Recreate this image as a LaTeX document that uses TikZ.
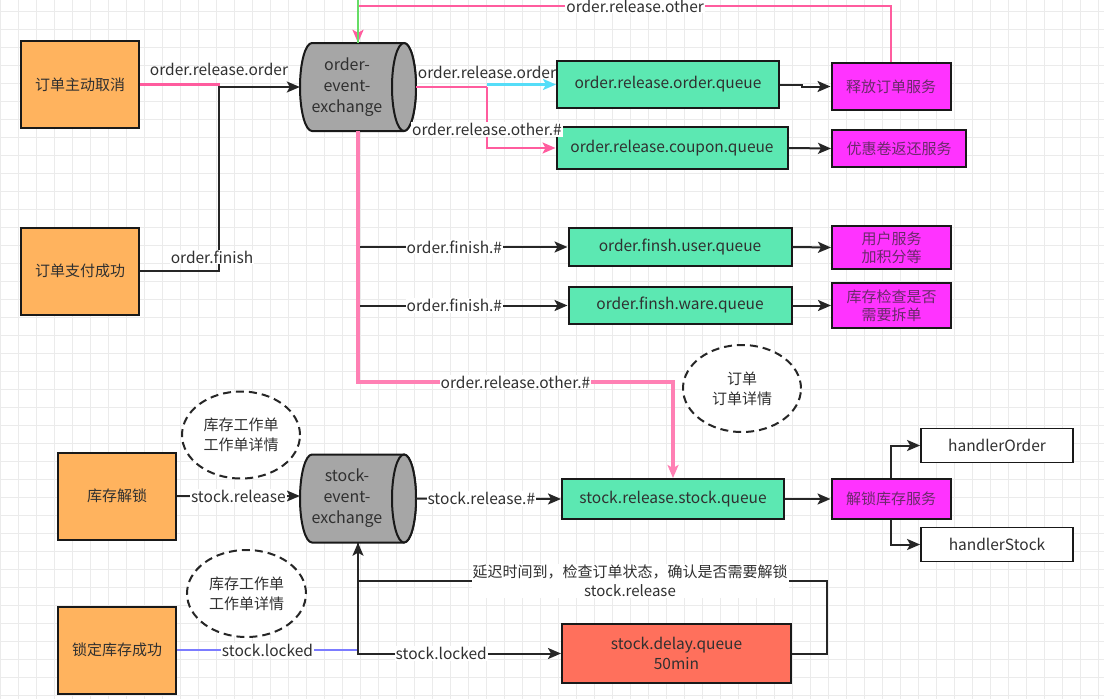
\documentclass[tikz,border=0pt]{standalone}
\usepackage{fontspec}
\setmainfont{Noto Sans CJK SC}
\usepackage{tikz}
\usetikzlibrary{arrows.meta,positioning,shapes.geometric}

\definecolor{txt}{HTML}{303030}
\definecolor{srcfill}{HTML}{FFB35E}
\definecolor{qfill}{HTML}{5CE8B2}
\definecolor{svcfill}{HTML}{FF33FF}
\definecolor{svctxt}{HTML}{6A2A6A}
\definecolor{delayfill}{HTML}{FF705C}
\definecolor{exfill}{HTML}{A6A6A6}
\definecolor{lnpink}{HTML}{FF5C9E}
\definecolor{lnpinklt}{HTML}{FF80B4}
\definecolor{lncyan}{HTML}{55DDF8}
\definecolor{lnblue}{HTML}{7C7CFF}
\definecolor{lngreen}{HTML}{66DD66}

\tikzset{
	>={Stealth[length=13pt,width=11pt,inset=3pt]}, % filled arrow heads
	every node/.style={text=txt, font=\fontsize{15.5}{18}\selectfont},
	gridln/.style={draw=black!8, line width=0.8pt},
	src/.style={draw=black!90, line width=2pt, fill=srcfill, minimum width=118pt, minimum height=87pt, font=\fontsize{15}{19}\selectfont},
	queue/.style={draw=black!90, line width=2pt, fill=qfill, inner sep=0pt, align=center, font=\fontsize{15.5}{20}\selectfont},
	svcbox/.style={draw=black!90, line width=2pt, fill=svcfill, text=svctxt, minimum width=119pt, inner sep=0pt, align=center, font=\fontsize{15}{18}\selectfont},
	handler/.style={draw=black!90, line width=1.8pt, fill=white, minimum width=152pt, minimum height=34pt, font=\fontsize{15.5}{18}\selectfont},
	note/.style={ellipse, draw=black!85, line width=2pt, dash pattern=on 8pt off 5pt, fill=white, minimum width=118pt, minimum height=87pt, inner sep=0pt, align=center, font=\fontsize{15}{20}\selectfont},
	exch/.style={draw=black!90, line width=2pt, fill=exfill},
	exname/.style={minimum width=116pt, minimum height=88pt, inner sep=0pt},
	exlabel/.style={align=center, xshift=-11pt, font=\fontsize{16}{21}\selectfont},
	link/.style={draw=black!85, line width=2pt},
	pinkln/.style={draw=lnpink, line width=2.2pt},
	bigpink/.style={draw=lnpinklt, line width=4pt},
	lbl/.style={fill=white, inner sep=1pt},
}

\begin{document}
\begin{tikzpicture}[x=1pt,y=-1pt]
	\useasboundingbox[fill=white] (0,0) rectangle (1104,699);
	% grid
	\foreach \gx in {0,18,...,1098} \draw[gridln] (\gx,0) -- (\gx,699);
	\foreach \gy in {11,29,...,695} \draw[gridln] (0,\gy) -- (1104,\gy);

	% the two exchanges
	\foreach \cy in {87,498.5} {
		\filldraw[exch] (312,\cy+44) arc[start angle=90,end angle=270,x radius=12,y radius=44]
			-- (404,\cy-44) arc[start angle=270,end angle=450,x radius=12,y radius=44] -- cycle;
		\draw[exch] (404,\cy) ellipse[x radius=12,y radius=44];
	}
	\node[exname, label={[exlabel]center:order-\\event-\\exchange}] (oex) at (358,87) {};
	\node[exname, label={[exlabel]center:stock-\\event-\\exchange}] (sex) at (358,498.5) {};

	% senders
	\node[src] (c1)   at (80,84.5) {订单主动取消};
	\node[src] (c2)   at (80,271)  {订单支付成功};
	\node[src] (unl)  at (117,496) {库存解锁};
	\node[src] (lock) at (117,650) {锁定库存成功};

	% queues
	\node[queue, minimum width=222pt, minimum height=47pt] (rq) at (668,84.5) {order.release.order.queue};
	\node[queue, minimum width=231pt, minimum height=42pt] (cq) at (672,148)  {order.release.coupon.queue};
	\node[queue, minimum width=223pt, minimum height=38pt] (uq) at (680,247)  {order.finsh.user.queue};
	\node[queue, minimum width=223pt, minimum height=37pt] (wq) at (680,305.5) {order.finsh.ware.queue};
	\node[queue, minimum width=222pt, minimum height=40pt] (sq) at (673,499)  {stock.release.stock.queue};
	\node[queue, fill=delayfill, minimum width=229pt, minimum height=59pt] (dq) at (676.5,653.5) {stock.delay.queue\\50min};

	% services
	\node[svcbox, minimum height=47pt] (rel)  at (891,86.5)  {释放订单服务};
	\node[svcbox, minimum width=134pt, minimum height=37pt] (cpn) at (899,148.5) {优惠卷返还服务};
	\node[svcbox, minimum height=43pt] (usr)  at (891.5,247.5) {用户服务\\加积分等};
	\node[svcbox, minimum height=45pt] (ware) at (891.5,305.5) {库存检查是否\\需要拆单};
	\node[svcbox, minimum height=40pt] (svc)  at (891,499)   {解锁库存服务};
	\node[handler] (ho) at (997,445.5) {handlerOrder};
	\node[handler] (hs) at (997,544.5) {handlerStock};

	% notes
	\node[note] (n1) at (241,435)   {库存工作单\\工作单详情};
	\node[note, minimum width=119pt] (n2) at (246.5,593.5) {库存工作单\\工作单详情};
	\node[note] (n3) at (742,388.5) {订单\\订单详情};

	\coordinate (tp) at (0,0);
	\coordinate (tl) at (0,6);
	\coordinate (jn) at (219,87);
	\coordinate (sp) at (487,87);
	\coordinate (bp) at (0,382);
	\coordinate (rl) at (0,581);

	% order side
	\draw[pinkln,->] (rel.north) |- node[lbl,pos=0.74]{order.release.other} (oex.north |- tl) -- (oex.north);
	\draw[draw=lngreen, line width=1.4pt] (oex.north |- tp) -- (oex.north);
	\draw[pinkln] (c1.east) -- node[pos=1,above=4pt]{order.release.order} (c1.east -| jn) -- (jn);
	\draw[link,->] (c2.east) -| node[lbl,pos=0.5,yshift=14pt,xshift=-7pt]{order.finish} (jn) -- (jn -| oex.west);
	\draw[pinkln] (oex.east) -- node[pos=1,above=4pt]{order.release.order} (sp);
	\draw[draw=lncyan, line width=2.2pt,->] (sp |- rq.west) -- (rq.west);
	\draw[pinkln,->] (sp) |- node[lbl,pos=0.35]{order.release.other.\#} (cq.west);
	\draw[link,->] (rq.east) -- ++(22,0) |- (rel.west);
	\draw[link,->] (cq.east) -- (cpn.west);
	\draw[link,->] (oex.south |- uq.west) -- node[lbl,pos=0.46]{order.finish.\#} (uq.west);
	\draw[link,->] (oex.south |- wq.west) -- node[lbl,pos=0.46]{order.finish.\#} (wq.west);
	\draw[link,->] (uq.east) -- (usr.west);
	\draw[link,->] (wq.east) -- (ware.west);
	\draw[bigpink,->] (oex.south) -- (oex.south |- bp) -- node[lbl]{order.release.other.\#} (sq.north |- bp) -- (sq.north);

	% stock side
	\draw[link,->] (unl.east) -- node[lbl]{stock.release} (unl.east -| sex.west);
	\draw[link,->] (sex.east) -- node[lbl,pos=0.45]{stock.release.\#} (sq.west);
	\draw[link,->] (sq.east) -- (svc.west);
	\draw[link,->] (svc.north) |- (ho.west);
	\draw[link,->] (svc.south) |- (hs.west);
	\draw[draw=lnblue, line width=2.2pt] (lock.east) -- node[lbl]{stock.locked} (lock.east -| sex.south) -- (sex.south);
	\draw[link,->] (sex.south) -- (sex.south |- dq.west) -- node[lbl,pos=0.41]{stock.locked} (dq.west);
	\draw[link,->] (dq.east) -- ++(35,0) |- node[lbl,pos=0.71,align=center,font=\fontsize{15}{19}\selectfont]{延迟时间到，检查订单状态，确认是否需要解锁\\stock.release} (sex.south |- rl) -- (sex.south);
\end{tikzpicture}
\end{document}
